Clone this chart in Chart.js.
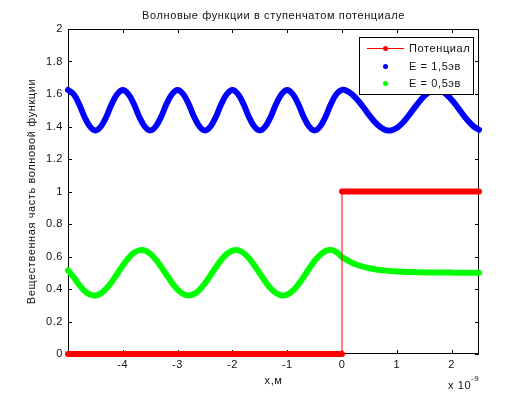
<!DOCTYPE html>
<html>
<head>
<meta charset="utf-8">
<title>Волновые функции в ступенчатом потенциале</title>
<style>
    body { margin: 0; background: #fff; }
    canvas { display: block; }
</style>
</head>
<body>
<canvas id="myChart" width="529" height="397"></canvas>
<script src="https://cdn.jsdelivr.net/npm/chart.js"></script>
<script>
// x in units of 1e-9 m
const xGrid = [
    -5.0, -4.9, -4.8, -4.7, -4.6, -4.5, -4.4, -4.3, -4.2, -4.1,
    -4.0, -3.9, -3.8, -3.7, -3.6, -3.5, -3.4, -3.3, -3.2, -3.1,
    -3.0, -2.9, -2.8, -2.7, -2.6, -2.5, -2.4, -2.3, -2.2, -2.1,
    -2.0, -1.9, -1.8, -1.7, -1.6, -1.5, -1.4, -1.3, -1.2, -1.1,
    -1.0, -0.9, -0.8, -0.7, -0.6, -0.5, -0.4, -0.3, -0.2, -0.1,
    0.0, 0.1, 0.2, 0.3, 0.4, 0.5, 0.6, 0.7, 0.8, 0.9,
    1.0, 1.1, 1.2, 1.3, 1.4, 1.5, 1.6, 1.7, 1.8, 1.9,
    2.0, 2.1, 2.2, 2.3, 2.4, 2.5
];

// E = 1,5эв
const blueY = [
    1.625, 1.600, 1.540, 1.460, 1.400, 1.375, 1.400, 1.460, 1.540, 1.600,
    1.625, 1.600, 1.540, 1.460, 1.400, 1.375, 1.400, 1.460, 1.540, 1.600,
    1.625, 1.600, 1.540, 1.460, 1.400, 1.375, 1.400, 1.460, 1.540, 1.600,
    1.625, 1.600, 1.540, 1.460, 1.400, 1.375, 1.400, 1.460, 1.540, 1.600,
    1.625, 1.600, 1.540, 1.460, 1.400, 1.375, 1.400, 1.460, 1.540, 1.600,
    1.625, 1.617, 1.593, 1.557, 1.514, 1.468, 1.427, 1.396, 1.378, 1.376,
    1.391, 1.420, 1.460, 1.505, 1.549, 1.587, 1.613, 1.625, 1.620, 1.599,
    1.565, 1.523, 1.477, 1.435, 1.401, 1.380
];

// E = 0,5эв
const greenY = [
    0.515, 0.475, 0.427, 0.389, 0.366, 0.360, 0.373, 0.403, 0.445, 0.494,
    0.545, 0.589, 0.622, 0.638, 0.637, 0.617, 0.582, 0.536, 0.486, 0.437,
    0.396, 0.370, 0.360, 0.369, 0.395, 0.435, 0.484, 0.535, 0.581, 0.616,
    0.636, 0.639, 0.622, 0.590, 0.546, 0.496, 0.446, 0.403, 0.374, 0.360,
    0.366, 0.389, 0.427, 0.474, 0.525, 0.573, 0.610, 0.634, 0.640, 0.627,
    0.597, 0.576, 0.559, 0.546, 0.536, 0.528, 0.522, 0.517, 0.513, 0.510,
    0.508, 0.506, 0.505, 0.504, 0.503, 0.502, 0.502, 0.501, 0.501, 0.501,
    0.501, 0.500, 0.500, 0.500, 0.500, 0.500
];

// step potential
const potX = [-5, 0, 0, 2.5];
const potY = [0, 0, 1, 1];

const xTicks = [-4, -3, -2, -1, 0, 1, 2];
const yTicks = [0, 0.2, 0.4, 0.6, 0.8, 1, 1.2, 1.4, 1.6, 1.8, 2];

const labels = ['Потенциал', 'E = 1,5эв', 'E = 0,5эв'];
const colors = ['rgb(255, 0, 0)', 'rgb(0, 0, 255)', 'rgb(0, 255, 0)'];

const FONT = '"Liberation Sans", Arial, sans-serif';

function toPoints(xs, ys) {
    return xs.map((x, i) => ({ x: x, y: ys[i] }));
}

// axes box and inward ticks, like matlab
const boxPlugin = {
    id: 'box',
    beforeDraw(chart) {
        chart.ctx.letterSpacing = '0.6px';
    },
    beforeDatasetsDraw(chart) {
        const { ctx, chartArea: a, scales } = chart;
        ctx.save();
        ctx.strokeStyle = '#000';
        ctx.lineWidth = 1;
        ctx.beginPath();
        ctx.rect(a.left + 0.5, a.top + 0.5, a.right - a.left - 1, a.bottom - a.top - 1);
        xTicks.forEach(v => {
            const px = Math.round(scales.x.getPixelForValue(v)) + 0.5;
            ctx.moveTo(px, a.bottom);
            ctx.lineTo(px, a.bottom - 4);
            ctx.moveTo(px, a.top);
            ctx.lineTo(px, a.top + 4);
        });
        yTicks.forEach(v => {
            const py = Math.round(scales.y.getPixelForValue(v)) + 0.5;
            ctx.moveTo(a.left, py);
            ctx.lineTo(a.left + 4, py);
            ctx.moveTo(a.right, py);
            ctx.lineTo(a.right - 4, py);
        });
        ctx.stroke();
        ctx.restore();
    }
};

// title, axis labels, exponent and the legend box
const textPlugin = {
    id: 'texts',
    afterDraw(chart) {
        const { ctx, chartArea: a } = chart;
        const cx = (a.left + a.right) / 2;
        ctx.save();
        ctx.fillStyle = '#111';
        ctx.letterSpacing = '0.6px';
        ctx.textBaseline = 'middle';
        ctx.textAlign = 'center';
        ctx.font = '11px ' + FONT;
        ctx.fillText('Волновые функции в ступенчатом потенциале', cx, 15.5);
        ctx.fillText('x,м', cx, 381);

        ctx.textAlign = 'left';
        ctx.font = '11px ' + FONT;
        ctx.fillText('x 10', 448, 386);
        ctx.font = '8px ' + FONT;
        ctx.fillText('-9', 471, 379);

        ctx.save();
        ctx.translate(32, (a.top + a.bottom) / 2);
        ctx.rotate(-Math.PI / 2);
        ctx.textAlign = 'center';
        ctx.font = '11px ' + FONT;
        ctx.fillText('Вещественная часть волновой функции', 0, 0);
        ctx.restore();

        // legend
        const lx = 359, ly = 37, lw = 114, lh = 57;
        ctx.fillStyle = '#fff';
        ctx.fillRect(lx, ly, lw, lh);
        ctx.strokeStyle = '#000';
        ctx.lineWidth = 1;
        ctx.strokeRect(lx + 0.5, ly + 0.5, lw, lh);
        const rows = [48.5, 66.5, 83.5];
        rows.forEach((ry, i) => {
            ctx.fillStyle = colors[i];
            ctx.strokeStyle = colors[i];
            if (i === 0) {
                ctx.beginPath();
                ctx.moveTo(367, ry);
                ctx.lineTo(404, ry);
                ctx.stroke();
            }
            ctx.beginPath();
            ctx.arc(385.5, ry, 2.5, 0, Math.PI * 2);
            ctx.fill();
            ctx.fillStyle = '#111';
            ctx.font = '11px ' + FONT;
            ctx.fillText(labels[i], 409, ry);
        });
        ctx.restore();
    }
};

const ctx = document.getElementById('myChart');

new Chart(ctx, {
    type: 'line',
    data: {
        datasets: [
            {
                label: labels[0],
                data: toPoints(potX, potY),
                borderColor: colors[0],
                borderWidth: 6,
                borderCapStyle: 'round',
                pointRadius: 0,
                tension: 0,
                clip: false,
                segment: {
                    borderWidth: c => (c.p0.parsed.x === c.p1.parsed.x ? 1 : 6)
                }
            }, {
                label: labels[1],
                data: toPoints(xGrid, blueY),
                borderColor: colors[1],
                borderWidth: 6,
                borderCapStyle: 'round',
                borderJoinStyle: 'round',
                pointRadius: 0,
                tension: 0.4,
                clip: false
            }, {
                label: labels[2],
                data: toPoints(xGrid, greenY),
                borderColor: colors[2],
                borderWidth: 6,
                borderCapStyle: 'round',
                borderJoinStyle: 'round',
                pointRadius: 0,
                tension: 0.4,
                clip: false
            }
        ]
    },
    options: {
        responsive: false,
        animation: false,
        devicePixelRatio: 1,
        layout: {
            padding: { top: 29, right: 50, left: 0, bottom: 0 }
        },
        plugins: {
            legend: { display: false },
            title: { display: false },
            tooltip: { enabled: false }
        },
        scales: {
            x: {
                type: 'linear',
                min: -5,
                max: 2.5,
                grid: { display: false, drawTicks: false },
                border: { display: false },
                afterBuildTicks: scale => {
                    scale.ticks = xTicks.map(v => ({ value: v }));
                },
                afterFit: scale => { scale.height = 43; },
                ticks: {
                    padding: 4,
                    color: '#111',
                    font: { family: FONT, size: 11 },
                    maxRotation: 0,
                    callback: v => String(v)
                }
            },
            y: {
                min: 0,
                max: 2,
                grid: { display: false, drawTicks: false },
                border: { display: false },
                afterBuildTicks: scale => {
                    scale.ticks = yTicks.map(v => ({ value: v }));
                },
                afterFit: scale => { scale.width = 68; },
                ticks: {
                    padding: 5,
                    color: '#111',
                    font: { family: FONT, size: 11 },
                    callback: v => String(+v.toFixed(1))
                }
            }
        }
    },
    plugins: [boxPlugin, textPlugin]
});
</script>
</body>
</html>
